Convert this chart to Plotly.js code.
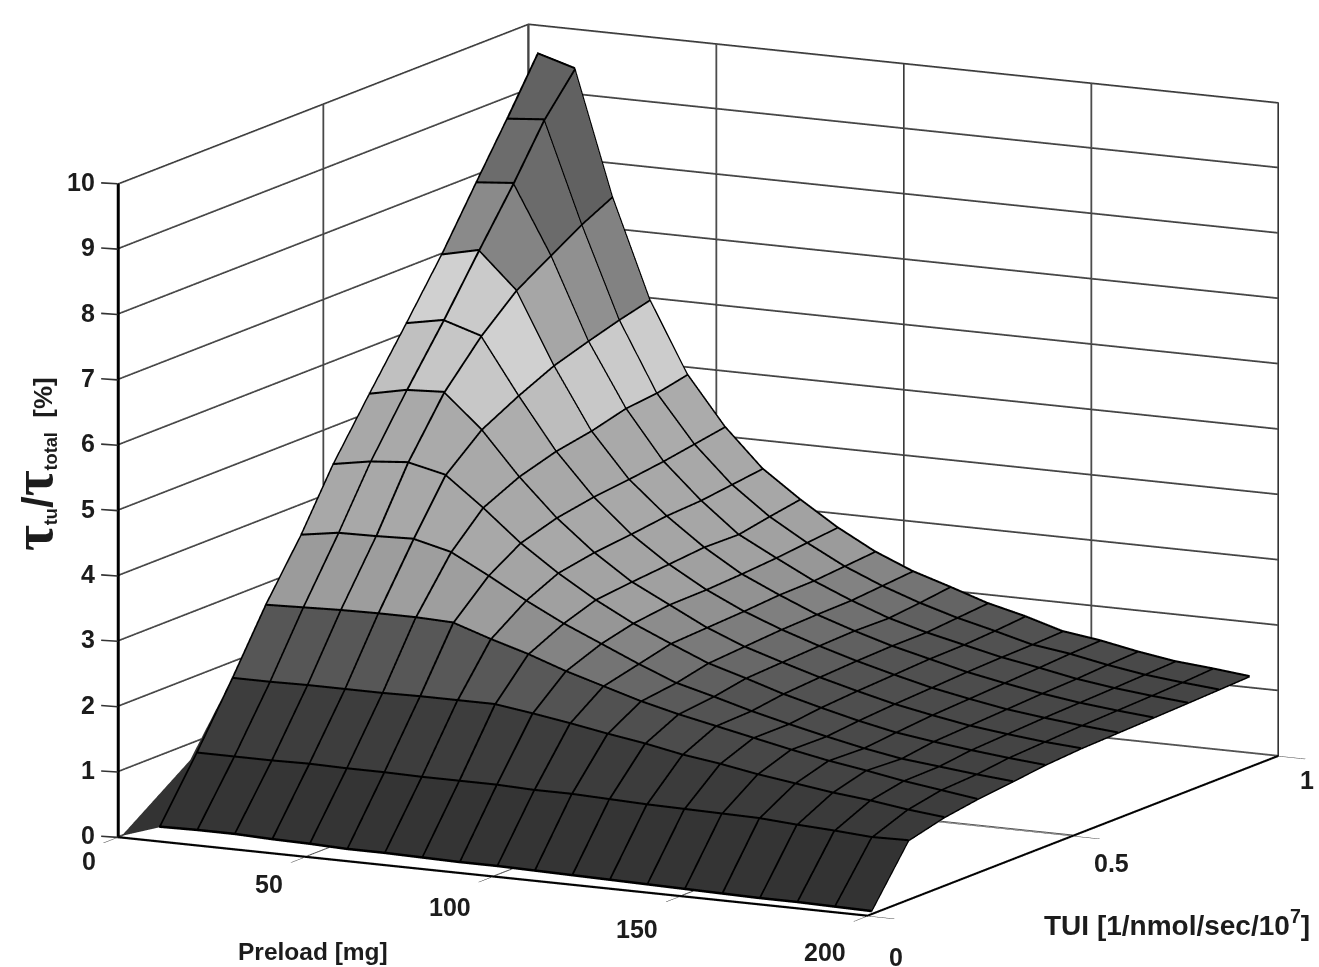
<!DOCTYPE html>
<html><head><meta charset="utf-8">
<script src="https://cdn.plot.ly/plotly-3.0.1.min.js"></script>
<style>html,body{margin:0;padding:0;background:#fff}#chart{width:1319px;height:967px}</style>
</head><body><div id="chart"></div>
<script>
const preload = [0,10,20,30,40,50,60,70,80,90,100,110,120,130,140,150,160,170,180,190,200];
const tui = [0.01,0.1,0.187,0.268,0.354,0.432,0.52,0.61,0.696,0.78,0.855,0.93];
const row00 = [0,0.19,0.2,0.2,0.18,0.17,0.15,0.15,0.14,0.13,0.13,0.12,0.11,0.1,0.09,0.08,0.07,0.06,0.06,0.05,0.04];
const row01 = [0,1.1,1.1,1.1,1.11,1.1,1.1,1.09,1.09,1.09,1.07,1.07,1.05,1.03,1.02,1.01,1.0,0.96,0.93,0.89,0.9];
const row02 = [0,2.03,2.03,2.04,2.04,2.04,2.05,2.05,2.05,1.97,1.88,1.78,1.69,1.58,1.5,1.4,1.32,1.24,1.18,1.1,1.04];
const row03 = [0,2.95,2.97,2.99,3.0,3.0,2.98,2.79,2.62,2.42,2.25,2.08,1.94,1.82,1.7,1.58,1.47,1.38,1.28,1.2,1.12];
const row04 = [0,3.81,3.9,3.91,3.93,3.79,3.49,3.17,2.88,2.63,2.38,2.15,2.0,1.84,1.7,1.57,1.45,1.35,1.29,1.23,1.18];
const row05 = [0,4.7,4.8,4.85,4.72,4.28,3.8,3.4,3.05,2.75,2.5,2.26,2.09,1.91,1.76,1.62,1.5,1.42,1.35,1.29,1.24];
const row06 = [0,5.56,5.68,5.71,5.2,4.54,3.97,3.5,3.11,2.82,2.53,2.3,2.12,1.95,1.8,1.66,1.55,1.45,1.38,1.32,1.28];
const row07 = [0,6.42,6.53,6.35,5.5,4.71,4.07,3.56,3.16,2.83,2.56,2.34,2.15,1.98,1.83,1.69,1.58,1.48,1.41,1.35,1.3];
const row08 = [0,7.26,7.39,6.84,5.75,4.81,4.13,3.63,3.21,2.86,2.6,2.36,2.17,2.0,1.86,1.72,1.61,1.51,1.43,1.37,1.32];
const row09 = [0,8.16,8.21,7.17,5.92,4.95,4.2,3.66,3.2,2.9,2.61,2.37,2.16,2.0,1.87,1.74,1.64,1.53,1.45,1.39,1.34];
const row10 = [0,8.95,9.0,7.46,6.06,5.0,4.28,3.72,3.29,2.95,2.65,2.41,2.21,2.04,1.9,1.75,1.67,1.56,1.47,1.41,1.36];
const row11 = [0,9.77,9.6,7.7,6.18,5.1,4.36,3.78,3.37,3.0,2.69,2.45,2.27,2.08,1.94,1.77,1.69,1.58,1.49,1.44,1.38];
const rows = [row00,row01,row02,row03,row04,row05,row06,row07,row08,row09,row10,row11];
const xTicks = [0,50,100,150,200];
const yTicks = [0,0.5,1];
const zTicks = [0,1,2,3,4,5,6,7,8,9,10];
const grayStops = [0,1,1.5,2,2.5,3,3.8,4.7,5.2,5.7,6.4,6.6,6.84,7.3,8.2,9,10];
const grayLevels = [0.2,0.23,0.28,0.33,0.48,0.62,0.66,0.66,0.68,0.78,0.82,0.78,0.65,0.53,0.42,0.38,0.36];
const yLabelDrop = [41,27,24];

function grayOf(v){
  let n = grayStops.length-1, g = grayLevels[n];
  for(let a=0;a<n;a++){ if(v<=grayStops[a+1]){ const f=(v-grayStops[a])/(grayStops[a+1]-grayStops[a]); g=grayLevels[a]+f*(grayLevels[a+1]-grayLevels[a]); break; } }
  const c=Math.round(g*255); return `rgb(${c},${c},${c})`;
}
const nx=preload.length, ny=tui.length;
const mx=[],my=[],mz=[],I=[],J=[],K=[],fc=[];
for(let r=0;r<ny;r++) for(let c=0;c<nx;c++){ mx.push(preload[c]); my.push(tui[r]); mz.push(rows[r][c]); }
for(let r=0;r<ny-1;r++) for(let c=0;c<nx-1;c++){
  const a=r*nx+c,b=a+1,d=a+nx,e=d+1,col=grayOf(rows[r][c]);
  I.push(a,a);J.push(b,e);K.push(e,d);fc.push(col,col);
}
const mesh={type:'mesh3d',x:mx,y:my,z:mz,i:I,j:J,k:K,facecolor:fc,flatshading:true,hoverinfo:'skip',showscale:false,
  lighting:{ambient:1,diffuse:0,specular:0,fresnel:0,roughness:1}};
// WebGL lines are one pixel wide here, so each grid line is laid down several times with a hair of offset
const rowStroke=[[0,0],[0,0.012],[0,0.024]];
const colStroke=[[0,0.004],[0.25,0.004],[0.12,0.012]];
const rx=[],ry=[],rz=[];
rowStroke.forEach(o=>{ for(let r=0;r<ny;r++){ for(let c=1;c<nx;c++){rx.push(preload[c]+o[0]);ry.push(tui[r]);rz.push(rows[r][c]+o[1]);} rx.push(null);ry.push(null);rz.push(null); } });
const cx=[],cy=[],cz=[];
colStroke.forEach(o=>{ for(let c=1;c<nx;c++){ for(let r=0;r<ny;r++){cx.push(Math.min(200,preload[c]+o[0]));cy.push(tui[r]);cz.push(rows[r][c]+o[1]);} cx.push(null);cy.push(null);cz.push(null); } });
const lineTrace=(x,y,z,c)=>({type:'scatter3d',mode:'lines',x,y,z,line:{color:c,width:2},hoverinfo:'skip',showlegend:false});

// wall / floor rules thickened the same way
const wx=[],wy=[],wz=[],bx=[],by=[],bz=[];
const seg=(A,a,b)=>{A.x.push(a[0],b[0],null);A.y.push(a[1],b[1],null);A.z.push(a[2],b[2],null);};
const W={x:wx,y:wy,z:wz},BX={x:bx,y:by,z:bz};
zTicks.forEach(v=>{const z=v>=10?v-0.012:v+0.012;
  seg(W,[0,0,z],[0,1,z]); seg(W,[0,1,z],[200,1,z]);});
xTicks.forEach(v=>{const p=v>=200?v-0.2:v+0.2; seg(W,[p,1,0],[p,1,10]); seg(W,[p,0,0.01],[p,1,0.01]);});
yTicks.forEach(v=>{const t=v>=1?v-0.002:v+0.002; seg(W,[0,t,0],[0,t,10]); seg(W,[0,t,0.01],[200,t,0.01]);});
[0.15,0.35].forEach(d=>seg(BX,[d,0.001,0],[d,0.001,10]));
[0.006,0.012].forEach(d=>seg(BX,[0,0,d],[200,0,d]));
[0.006,0.012].forEach(d=>seg(BX,[200,0,d],[200,1,d]));

const ink='#1c1c1c';
const tickFont={family:'"Liberation Sans",Arial,sans-serif',size:25,color:ink};
const sceneAnn=[];
xTicks.forEach(v=>sceneAnn.push({x:v,y:0,z:0,text:'<b>'+v+'</b>',showarrow:false,xanchor:'right',yanchor:'middle',xshift:-20,yshift:-(24+0.06*v),font:tickFont}));
yTicks.forEach((v,n)=>sceneAnn.push({x:200,y:v,z:0,text:'<b>'+v+'</b>',showarrow:false,xanchor:'left',yanchor:'middle',xshift:19,yshift:-yLabelDrop[n],font:tickFont}));
zTicks.forEach(v=>sceneAnn.push({x:0,y:0,z:v,text:'<b>'+v+'</b>',showarrow:true,arrowhead:0,arrowwidth:1.6,arrowcolor:'#333',ax:v>=10?-37:-30,ay:-2,borderpad:6,xanchor:'center',yanchor:'middle',font:tickFont}));

const ax=(vals,rng,tk)=>({range:rng,tickmode:'array',tickvals:vals,showticklabels:false,showgrid:true,gridcolor:'#333',gridwidth:2,
  showbackground:false,showline:true,linecolor:'#000',linewidth:3,ticks:tk,ticklen:30,tickcolor:'#333',tickwidth:2,zeroline:false,showspikes:false,title:{text:''}});
const dist=4, az=27.43*Math.PI/180, el=11.65*Math.PI/180;
const layout={width:1319,height:967,margin:{l:0,r:0,t:0,b:0},paper_bgcolor:'#fff',showlegend:false,
 scene:{domain:{x:[0.0585,1],y:[0.028,1]},aspectmode:'manual',aspectratio:{x:1.798,y:1.898,z:1.42},
  xaxis:ax(xTicks,[0,200],'outside'),yaxis:ax(yTicks,[0,1],'outside'),zaxis:ax(zTicks,[0,10],''),
  camera:{projection:{type:'orthographic'},center:{x:0,y:0,z:0},up:{x:0,y:0,z:1},
    eye:{x:dist*Math.cos(el)*Math.sin(az),y:-dist*Math.cos(el)*Math.cos(az),z:dist*Math.sin(el)}},
  annotations:sceneAnn},
 annotations:[
  {xref:'paper',yref:'paper',x:313/1319,y:1-951/967,xanchor:'center',yanchor:'middle',text:'<b>Preload [mg]</b>',showarrow:false,font:{family:'"Liberation Sans",Arial,sans-serif',size:24.5,color:ink}},
  {xref:'paper',yref:'paper',x:1177/1319,y:1-923/967,xanchor:'center',yanchor:'middle',text:'<b>TUI [1/nmol/sec/10<sup>7</sup>]</b>',showarrow:false,font:{family:'"Liberation Sans",Arial,sans-serif',size:28,color:ink}},
  {xref:'paper',yref:'paper',x:33/1319,y:1-464/967,xanchor:'center',yanchor:'middle',textangle:-90,showarrow:false,
   text:'<b><span style="font-family:\'Liberation Serif\';font-size:56px">τ</span><sub>tu</sub><span style="font-size:42px">/</span><span style="font-family:\'Liberation Serif\';font-size:56px">τ</span><sub>total</sub>  [%]</b>',
   font:{family:'"Liberation Sans",Arial,sans-serif',size:26,color:ink}}
 ]};
Plotly.newPlot('chart',[mesh,lineTrace(wx,wy,wz,'#555'),lineTrace(bx,by,bz,'#000'),lineTrace(rx,ry,rz,'#000'),lineTrace(cx,cy,cz,'#000')],layout,{displayModeBar:false});
</script></body></html>
